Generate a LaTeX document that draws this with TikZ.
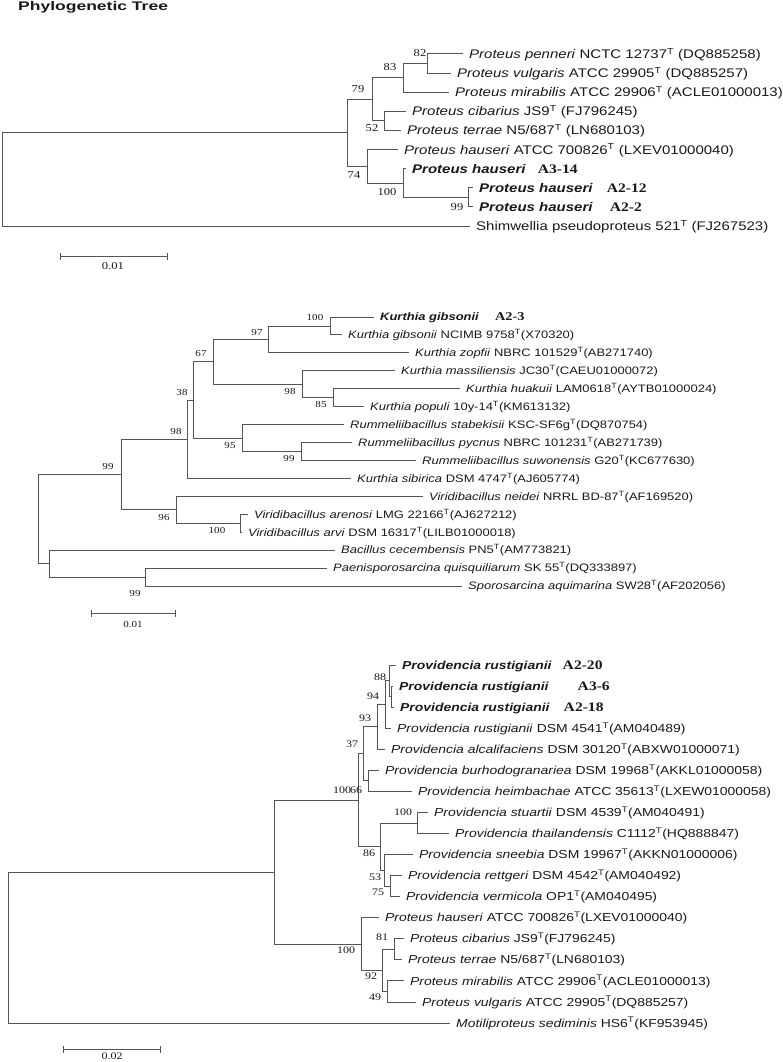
\documentclass[tikz,border=0pt]{standalone}
\usepackage{fontspec}
\setmainfont{Liberation Sans}[FakeStretch=1.2]
\newfontfamily\bootfont{Liberation Serif}[FakeStretch=1.2]
\newfontfamily\titlefont{Liberation Sans}[FakeStretch=1.4]
\usepackage{tikz}
\usetikzlibrary{arrows.meta}
\definecolor{brgrey}{RGB}{85,85,85}
\definecolor{txtgrey}{RGB}{25,25,25}
\newcommand{\tsup}{\textsuperscript{T}}
\newcommand{\boldsp}[1]{\textbf{\textit{#1}}}
\newcommand{\strain}[2]{{\bootfont\bfseries\upshape\fontsize{#1}{#1}\selectfont #2}}

\begin{document}
\begin{tikzpicture}[x=1pt,y=-1pt,text=txtgrey]
      \tikzstyle{every edge}=[draw=brgrey,line width=1pt,to path={|- (\tikztotarget)}]
      \tikzstyle{leaf}=[anchor=west,inner xsep=6pt,inner ysep=0pt]
      \tikzstyle{topleaf}=[leaf,font=\fontsize{12.5}{14}\selectfont,text height=11.5pt,text depth=2.5pt]
      \tikzstyle{midleaf}=[leaf,font=\fontsize{10.8}{12}\selectfont,text height=9.9pt,text depth=2.2pt]
      \tikzstyle{botleaf}=[leaf,font=\fontsize{11.6}{13}\selectfont,text height=10.6pt,text depth=2.3pt]
      \tikzstyle{topboot}=[inner sep=0pt,font=\bootfont\fontsize{10.5}{12}\selectfont]
      \tikzstyle{midboot}=[inner sep=0pt,font=\bootfont\fontsize{9.2}{10}\selectfont]
      \tikzstyle{botboot}=[inner sep=0pt,font=\bootfont\fontsize{10}{11}\selectfont]
      \tikzstyle{scalebar}=[draw=brgrey,line width=1pt,{Bar[width=7pt]}-{Bar[width=7pt]}]

      \useasboundingbox (0,0) rectangle (782,1062);
      \node[anchor=base west,inner sep=0pt,font=\titlefont\bfseries\fontsize{12.5}{14}\selectfont] (title) at (18,11) {Phylogenetic Tree};

      \node[topleaf] (tPen) at (463,54.0) {\textit{Proteus penneri} NCTC 12737\tsup{} (DQ885258)};
      \node[topleaf] (tVul) at (451,73.1) {\textit{Proteus vulgaris} ATCC 29905\tsup{} (DQ885257)};
      \node[topleaf] (tMir) at (449,92.2) {\textit{Proteus mirabilis} ATCC 29906\tsup{} (ACLE01000013)};
      \node[topleaf] (tCib) at (406,111.3) {\textit{Proteus cibarius} JS9\tsup{} (FJ796245)};
      \node[topleaf] (tTer) at (401,130.4) {\textit{Proteus terrae} N5/687\tsup{} (LN680103)};
      \node[topleaf] (tHau) at (398,149.6) {\textit{Proteus hauseri} ATCC 700826\tsup{} (LXEV01000040)};
      \node[topleaf] (tA314) at (406,168.7) {\boldsp{Proteus hauseri}\hspace{12pt}\strain{13}{A3-14}};
      \node[topleaf] (tA212) at (473,187.8) {\boldsp{Proteus hauseri}\hspace{14pt}\strain{13}{A2-12}};
      \node[topleaf] (tA22) at (473,206.9) {\boldsp{Proteus hauseri}\hspace{17pt}\strain{13}{A2-2}};
      \node[topleaf] (tShi) at (470,226.0) {Shimwellia pseudoproteus 521\tsup{} (FJ267523)};

      \coordinate (tn82) at (427,63.6);
      \coordinate (tn83) at (403,77.9);
      \coordinate (tn52) at (384,120.9);
      \coordinate (tn79) at (372,99.4);
      \coordinate (tn99) at (468,197.4);
      \coordinate (tn100) at (403,183.1);
      \coordinate (tn74) at (367,166.4);
      \coordinate (tnA) at (347,132.9);
      \coordinate (troot) at (2,179.5);

      \path
	(tn82) edge (tPen.west)
	(tn82) edge (tVul.west)
	(tn83) edge (tn82)
	(tn83) edge (tMir.west)
	(tn52) edge (tCib.west)
	(tn52) edge (tTer.west)
	(tn79) edge (tn83)
	(tn79) edge (tn52)
	(tn99) edge (tA212.west)
	(tn99) edge (tA22.west)
	(tn100) edge (tA314.west)
	(tn100) edge (tn99)
	(tn74) edge (tHau.west)
	(tn74) edge (tn100)
	(tnA) edge (tn79)
	(tnA) edge (tn74)
	(troot) edge (tnA)
	(troot) edge (tShi.west);

      \node[topboot] (tb82) at (420,53) {82};
      \node[topboot] (tb83) at (390,67) {83};
      \node[topboot] (tb79) at (358,89) {79};
      \node[topboot] (tb52) at (372,128) {52};
      \node[topboot] (tb74) at (354,175) {74};
      \node[topboot] (tb100) at (387,192) {100};
      \node[topboot] (tb99) at (457,207) {99};

      \coordinate (tsL) at (60,256);
      \coordinate (tsR) at (168,256);
      \draw[scalebar] (tsL) -- (tsR);
      \node[topboot] (tscale) at (113,266) {0.01};

      \node[midleaf] (mA23) at (374,317.0) {\boldsp{Kurthia gibsonii}\hspace{16pt}\strain{12}{A2-3}};
      \node[midleaf] (mNci) at (342,334.9) {\textit{Kurthia gibsonii} NCIMB 9758\tsup(X70320)};
      \node[midleaf] (mZop) at (409,352.9) {\textit{Kurthia zopfii} NBRC 101529\tsup(AB271740)};
      \node[midleaf] (mMas) at (395,370.8) {\textit{Kurthia massiliensis} JC30\tsup(CAEU01000072)};
      \node[midleaf] (mHua) at (460,388.7) {\textit{Kurthia huakuii} LAM0618\tsup(AYTB01000024)};
      \node[midleaf] (mPop) at (364,406.7) {\textit{Kurthia populi} 10y-14\tsup(KM613132)};
      \node[midleaf] (mSta) at (344,424.6) {\textit{Rummeliibacillus stabekisii} KSC-SF6g\tsup(DQ870754)};
      \node[midleaf] (mPyc) at (352,442.5) {\textit{Rummeliibacillus pycnus} NBRC 101231\tsup(AB271739)};
      \node[midleaf] (mSuw) at (416,460.4) {\textit{Rummeliibacillus suwonensis} G20\tsup(KC677630)};
      \node[midleaf] (mSib) at (351,478.4) {\textit{Kurthia sibirica} DSM 4747\tsup(AJ605774)};
      \node[midleaf] (mNei) at (423,496.3) {\textit{Viridibacillus neidei} NRRL BD-87\tsup(AF169520)};
      \node[midleaf] (mAre) at (248,514.2) {\textit{Viridibacillus arenosi} LMG 22166\tsup(AJ627212)};
      \node[midleaf] (mArv) at (242,532.2) {\textit{Viridibacillus arvi} DSM 16317\tsup(LILB01000018)};
      \node[midleaf] (mCec) at (335,550.1) {\textit{Bacillus cecembensis} PN5\tsup(AM773821)};
      \node[midleaf] (mPae) at (327,568.0) {\textit{Paenisporosarcina quisquiliarum} SK 55\tsup(DQ333897)};
      \node[midleaf] (mSpo) at (462,586.0) {\textit{Sporosarcina aquimarina} SW28\tsup(AF202056)};

      \coordinate (mn100a) at (330,326.0);
      \coordinate (mn97) at (268,339.5);
      \coordinate (mn85) at (333,397.7);
      \coordinate (mn98b) at (302,384.3);
      \coordinate (mn67) at (213,361.9);
      \coordinate (mn99b) at (301,451.5);
      \coordinate (mn95) at (242,438.0);
      \coordinate (mn38) at (193,400.0);
      \coordinate (mn98a) at (187,439.2);
      \coordinate (mn100b) at (240,523.2);
      \coordinate (mn96) at (176,509.8);
      \coordinate (mn99a) at (121,474.5);
      \coordinate (mn99c) at (145,577.0);
      \coordinate (mnb) at (49,563.6);
      \coordinate (mroot) at (38,519.0);

      \path
	(mn100a) edge (mA23.west)
	(mn100a) edge (mNci.west)
	(mn97) edge (mn100a)
	(mn97) edge (mZop.west)
	(mn85) edge (mHua.west)
	(mn85) edge (mPop.west)
	(mn98b) edge (mMas.west)
	(mn98b) edge (mn85)
	(mn67) edge (mn97)
	(mn67) edge (mn98b)
	(mn99b) edge (mPyc.west)
	(mn99b) edge (mSuw.west)
	(mn95) edge (mSta.west)
	(mn95) edge (mn99b)
	(mn38) edge (mn67)
	(mn38) edge (mn95)
	(mn98a) edge (mn38)
	(mn98a) edge (mSib.west)
	(mn100b) edge (mAre.west)
	(mn100b) edge (mArv.west)
	(mn96) edge (mNei.west)
	(mn96) edge (mn100b)
	(mn99a) edge (mn98a)
	(mn99a) edge (mn96)
	(mn99c) edge (mPae.west)
	(mn99c) edge (mSpo.west)
	(mnb) edge (mCec.west)
	(mnb) edge (mn99c)
	(mroot) edge (mn99a)
	(mroot) edge (mnb);

      \node[midboot] (mb100a) at (315,317) {100};
      \node[midboot] (mb97) at (257,332) {97};
      \node[midboot] (mb67) at (201,353) {67};
      \node[midboot] (mb38) at (182,392) {38};
      \node[midboot] (mb98a) at (176,431) {98};
      \node[midboot] (mb99a) at (108,466) {99};
      \node[midboot] (mb98b) at (290,391) {98};
      \node[midboot] (mb85) at (321,404) {85};
      \node[midboot] (mb95) at (230,445) {95};
      \node[midboot] (mb99b) at (289,458) {99};
      \node[midboot] (mb96) at (164,517) {96};
      \node[midboot] (mb100b) at (217,530) {100};
      \node[midboot] (mb99c) at (135,593) {99};

      \coordinate (msL) at (91,613);
      \coordinate (msR) at (176,613);
      \draw[scalebar] (msL) -- (msR);
      \node[midboot] (mscale) at (133,624) {0.01};

      \node[botleaf] (bA220) at (396,665.0) {\boldsp{Providencia rustigianii}\hspace{11pt}\strain{13}{A2-20}};
      \node[botleaf] (bA36) at (393,686.1) {\boldsp{Providencia rustigianii}\hspace{29pt}\strain{13}{A3-6}};
      \node[botleaf] (bA218) at (394,707.1) {\boldsp{Providencia rustigianii}\hspace{14pt}\strain{13}{A2-18}};
      \node[botleaf] (bDsm) at (391,728.2) {\textit{Providencia rustigianii} DSM 4541\tsup(AM040489)};
      \node[botleaf] (bAlc) at (385,749.2) {\textit{Providencia alcalifaciens} DSM 30120\tsup(ABXW01000071)};
      \node[botleaf] (bBur) at (379,770.3) {\textit{Providencia burhodogranariea} DSM 19968\tsup(AKKL01000058)};
      \node[botleaf] (bHei) at (412,791.4) {\textit{Providencia heimbachae} ATCC 35613\tsup(LXEW01000058)};
      \node[botleaf] (bStu) at (428,812.4) {\textit{Providencia stuartii} DSM 4539\tsup(AM040491)};
      \node[botleaf] (bTha) at (449,833.5) {\textit{Providencia thailandensis} C1112\tsup(HQ888847)};
      \node[botleaf] (bSne) at (413,854.5) {\textit{Providencia sneebia} DSM 19967\tsup(AKKN01000006)};
      \node[botleaf] (bRet) at (402,875.6) {\textit{Providencia rettgeri} DSM 4542\tsup(AM040492)};
      \node[botleaf] (bVer) at (400,896.7) {\textit{Providencia vermicola} OP1\tsup(AM040495)};
      \node[botleaf] (bHau) at (379,917.7) {\textit{Proteus hauseri} ATCC 700826\tsup(LXEV01000040)};
      \node[botleaf] (bCib) at (404,938.8) {\textit{Proteus cibarius} JS9\tsup(FJ796245)};
      \node[botleaf] (bTer) at (402,959.8) {\textit{Proteus terrae} N5/687\tsup(LN680103)};
      \node[botleaf] (bMir) at (404,980.9) {\textit{Proteus mirabilis} ATCC 29906\tsup(ACLE01000013)};
      \node[botleaf] (bVul) at (416,1002.0) {\textit{Proteus vulgaris} ATCC 29905\tsup(DQ885257)};
      \node[botleaf] (bMot) at (450,1023.0) {\textit{Motiliproteus sediminis} HS6\tsup(KF953945)};

      \coordinate (bnx) at (391,696.6);
      \coordinate (bn88) at (389,680.8);
      \coordinate (bn94) at (385,704.5);
      \coordinate (bn93) at (377,726.9);
      \coordinate (bn66) at (368,780.9);
      \coordinate (bn37) at (363,753.9);
      \coordinate (bn100b) at (417,823.0);
      \coordinate (bn75) at (390,886.2);
      \coordinate (bn53) at (384,870.3);
      \coordinate (bn86) at (380,846.7);
      \coordinate (bn100a) at (358,800.3);
      \coordinate (bn81) at (394,949.3);
      \coordinate (bn49) at (387,991.5);
      \coordinate (bn92) at (382,970.4);
      \coordinate (bn100c) at (361,944.1);
      \coordinate (bntop) at (274,872.2);
      \coordinate (broot) at (8,947.6);

      \path
	(bnx) edge (bA36.west)
	(bnx) edge (bA218.west)
	(bn88) edge (bA220.west)
	(bn88) edge (bnx)
	(bn94) edge (bn88)
	(bn94) edge (bDsm.west)
	(bn93) edge (bn94)
	(bn93) edge (bAlc.west)
	(bn66) edge (bBur.west)
	(bn66) edge (bHei.west)
	(bn37) edge (bn93)
	(bn37) edge (bn66)
	(bn100b) edge (bStu.west)
	(bn100b) edge (bTha.west)
	(bn75) edge (bRet.west)
	(bn75) edge (bVer.west)
	(bn53) edge (bSne.west)
	(bn53) edge (bn75)
	(bn86) edge (bn100b)
	(bn86) edge (bn53)
	(bn100a) edge (bn37)
	(bn100a) edge (bn86)
	(bn81) edge (bCib.west)
	(bn81) edge (bTer.west)
	(bn49) edge (bMir.west)
	(bn49) edge (bVul.west)
	(bn92) edge (bn81)
	(bn92) edge (bn49)
	(bn100c) edge (bHau.west)
	(bn100c) edge (bn92)
	(bntop) edge (bn100a)
	(bntop) edge (bn100c)
	(broot) edge (bntop)
	(broot) edge (bMot.west);

      \node[botboot] (bb88) at (380,677) {88};
      \node[botboot] (bb94) at (373,696) {94};
      \node[botboot] (bb93) at (365,718) {93};
      \node[botboot] (bb37) at (352,744) {37};
      \node[botboot] (bb100a) at (342,790) {100};
      \node[botboot] (bb66) at (356,790) {66};
      \node[botboot] (bb100b) at (403,812) {100};
      \node[botboot] (bb86) at (369,853) {86};
      \node[botboot] (bb53) at (375,877) {53};
      \node[botboot] (bb75) at (378,892) {75};
      \node[botboot] (bb100c) at (346,950) {100};
      \node[botboot] (bb81) at (382,937) {81};
      \node[botboot] (bb92) at (371,976) {92};
      \node[botboot] (bb49) at (375,997) {49};

      \coordinate (bsL) at (63,1049);
      \coordinate (bsR) at (161,1049);
      \draw[scalebar] (bsL) -- (bsR);
      \node[botboot] (bscale) at (112,1056) {0.02};
\end{tikzpicture}
\end{document}
